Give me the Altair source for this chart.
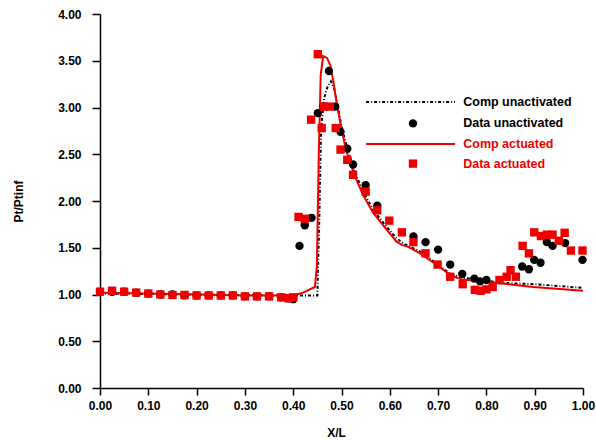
import altair as alt
import pandas as pd

# ---- data ----
flat_x = [0.0, 0.025, 0.05, 0.075, 0.1, 0.125, 0.15, 0.175, 0.2, 0.225, 0.25, 0.275,
          0.3, 0.325, 0.35, 0.375, 0.39, 0.40]

du_x = flat_x + [0.413, 0.424, 0.438, 0.451, 0.462, 0.474, 0.487, 0.498, 0.512, 0.524,
                 0.55, 0.574, 0.649, 0.674, 0.70, 0.725, 0.75, 0.775, 0.787, 0.80,
                 0.874, 0.888, 0.899, 0.912, 0.925, 0.937, 0.963, 0.999]
du_y = [1.03, 1.03, 1.03, 1.02, 1.01, 1.0, 1.0, 0.99, 0.99, 0.99, 0.99, 0.99,
        0.98, 0.98, 0.98, 0.97, 0.96, 0.95] + \
       [1.52, 1.74, 1.82, 2.94, 3.01, 3.39, 3.01, 2.74, 2.56, 2.39,
        2.17, 1.95, 1.62, 1.56, 1.48, 1.32, 1.22, 1.17, 1.14, 1.155,
        1.30, 1.27, 1.37, 1.34, 1.56, 1.52, 1.55, 1.37]

da_x = flat_x + [0.411, 0.424, 0.437, 0.451, 0.459, 0.463, 0.476, 0.488, 0.498, 0.512,
                 0.524, 0.55, 0.574, 0.599, 0.625, 0.649, 0.674, 0.699, 0.725, 0.751,
                 0.776, 0.788, 0.80, 0.813, 0.827, 0.842, 0.85, 0.861, 0.875, 0.888,
                 0.899, 0.913, 0.925, 0.937, 0.95, 0.962, 0.975, 0.999]
da_y = [1.03, 1.04, 1.03, 1.02, 1.01, 1.0, 0.995, 0.995, 0.99, 0.99, 0.99, 0.99,
        0.98, 0.98, 0.98, 0.97, 0.96, 0.97] + \
       [1.83, 1.81, 2.87, 3.57, 2.78, 3.01, 3.01, 2.78, 2.55, 2.44,
        2.28, 2.10, 1.90, 1.79, 1.665, 1.56, 1.44, 1.32, 1.19, 1.11,
        1.05, 1.04, 1.055, 1.08, 1.155, 1.19, 1.26, 1.19, 1.52, 1.44,
        1.665, 1.625, 1.64, 1.64, 1.575, 1.66, 1.47, 1.47]

cu_x = [0.0, 0.2, 0.4, 0.45, 0.454, 0.458, 0.464, 0.471, 0.478, 0.485, 0.492, 0.5,
        0.51, 0.528, 0.545, 0.566, 0.594, 0.614, 0.63, 0.663, 0.697, 0.725, 0.75,
        0.8, 0.828, 0.9, 1.0]
cu_y = [1.01, 1.0, 0.99, 0.99, 1.8, 2.8, 3.1, 3.22, 3.28, 3.2, 3.02, 2.8,
        2.6, 2.3, 2.1, 1.9, 1.72, 1.6, 1.54, 1.46, 1.33, 1.22, 1.18,
        1.15, 1.125, 1.11, 1.07]

ca_x = [0.0, 0.1, 0.2, 0.3, 0.40, 0.42, 0.445, 0.449, 0.453, 0.457, 0.462, 0.47,
        0.477, 0.484, 0.49, 0.497, 0.509, 0.528, 0.545, 0.566, 0.594, 0.614, 0.625,
        0.638, 0.663, 0.697, 0.725, 0.749, 0.794, 0.828, 0.897, 1.0]
ca_y = [1.02, 1.01, 1.0, 0.99, 0.99, 1.02, 1.08, 1.3, 2.5, 3.35, 3.55, 3.53,
        3.45, 3.25, 3.05, 2.85, 2.55, 2.26, 2.06, 1.87, 1.69, 1.565, 1.53,
        1.51, 1.44, 1.315, 1.21, 1.16, 1.14, 1.12, 1.08, 1.04]

legend_labels = ["Comp unactivated", "Data unactivated", "Comp actuated", "Data actuated"]
legend_y = [3.06, 2.83, 2.61, 2.40]
legend_colors = ["black", "black", "#ee0000", "#ee0000"]

RED = "#ee0000"
FONT = "Liberation Sans"

du = pd.DataFrame({"x": du_x, "y": du_y})
da = pd.DataFrame({"x": da_x, "y": da_y})
cu = pd.DataFrame({"x": cu_x, "y": cu_y})
ca = pd.DataFrame({"x": ca_x, "y": ca_y})
leg = pd.DataFrame({"label": legend_labels, "y": legend_y, "c": legend_colors,
                    "x1": [0.551] * 4, "x2": [0.735] * 4, "xm": [0.648] * 4, "xt": [0.752] * 4})

xscale = alt.Scale(domain=[0, 1], nice=False)
yscale = alt.Scale(domain=[0, 4], nice=False)

xaxis = alt.Axis(values=[i / 10 for i in range(11)], format=".2f", title="X/L",
                 grid=False, tickSize=7, labelPadding=5, labelFlush=False, domainColor="black",
                 tickColor="black", domainWidth=1.5, tickWidth=1.5,
                 labelFont=FONT, labelFontSize=12, labelFontWeight="bold", labelColor="black",
                 titleFont=FONT, titleFontSize=12, titleFontWeight="bold", titleColor="black",
                 titleX=236, titleY=44, titleBaseline="middle")
yaxis = alt.Axis(values=[i / 2 for i in range(9)], format=".2f", title="Pt/Ptinf",
                 grid=False, tickSize=8, labelPadding=11, labelFlush=False, domainColor="black",
                 tickColor="black", domainWidth=1.5, tickWidth=1.5,
                 labelFont=FONT, labelFontSize=12, labelFontWeight="bold", labelColor="black",
                 titleFont=FONT, titleFontSize=12, titleFontWeight="bold", titleColor="black",
                 titleX=-82, titleY=187, titleAngle=270, titleBaseline="middle", titleAlign="center")

X = alt.X("x:Q", scale=xscale, axis=xaxis)
Y = alt.Y("y:Q", scale=yscale, axis=yaxis)

line_cu = alt.Chart(cu).mark_line(color="black", strokeWidth=2, strokeDash=[3, 2, 1, 2]).encode(
    x=X, y=Y, order="x:Q")
line_ca = alt.Chart(ca).mark_line(color=RED, strokeWidth=2).encode(
    x="x:Q", y="y:Q", order="x:Q")
pts_du = alt.Chart(du).mark_point(shape="circle", filled=True, color="black", size=70, opacity=1).encode(
    x="x:Q", y="y:Q")
pts_da = alt.Chart(da).mark_point(shape="square", filled=True, color=RED, size=70, opacity=1).encode(
    x="x:Q", y="y:Q")

# legend
leg_cu = alt.Chart(leg).transform_filter(alt.datum.label == "Comp unactivated").mark_rule(
    color="black", strokeWidth=2, strokeDash=[3, 2, 1, 2]).encode(x="x1:Q", x2="x2:Q", y="y:Q")
leg_ca = alt.Chart(leg).transform_filter(alt.datum.label == "Comp actuated").mark_rule(
    color=RED, strokeWidth=2).encode(x="x1:Q", x2="x2:Q", y="y:Q")
leg_du = alt.Chart(leg).transform_filter(alt.datum.label == "Data unactivated").mark_point(
    shape="circle", filled=True, color="black", size=70, opacity=1).encode(x="xm:Q", y="y:Q")
leg_da = alt.Chart(leg).transform_filter(alt.datum.label == "Data actuated").mark_point(
    shape="square", filled=True, color=RED, size=70, opacity=1).encode(x="xm:Q", y="y:Q")
leg_txt = alt.Chart(leg).mark_text(align="left", baseline="middle", font=FONT, fontSize=12.5,
                                   fontWeight="bold").encode(
    x="xt:Q", y="y:Q", text="label:N", color=alt.Color("c:N", scale=None))

chart = alt.layer(line_cu, line_ca, pts_du, pts_da, leg_cu, leg_ca, leg_du, leg_da, leg_txt).properties(
    width=483, height=374,
    autosize=alt.AutoSizeParams(type="none"),
    padding={"left": 100, "top": 14, "right": 13, "bottom": 52},
    background="white",
).configure_view(stroke=None)

chart.save("out.html", embed_options={"renderer": "svg", "actions": False})
